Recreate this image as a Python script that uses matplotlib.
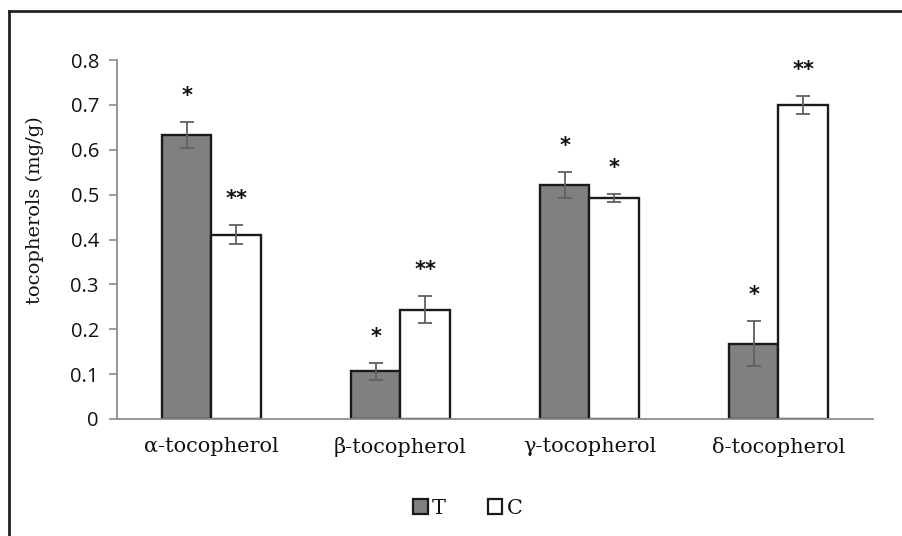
import matplotlib
matplotlib.use("Agg")
import matplotlib.pyplot as plt
from matplotlib.lines import Line2D
from matplotlib.patches import Patch
import numpy as np

categories = ["α-tocopherol", "β-tocopherol", "γ-tocopherol", "δ-tocopherol"]
T_values = [0.632, 0.106, 0.521, 0.168]
T_errors = [0.029, 0.019, 0.029, 0.050]
C_values = [0.411, 0.243, 0.492, 0.700]
C_errors = [0.021, 0.030, 0.009, 0.020]
T_marks = ["*", "*", "*", "*"]
C_marks = ["**", "**", "*", "**"]
yticks = [0, 0.1, 0.2, 0.3, 0.4, 0.5, 0.6, 0.7, 0.8]
ytick_labels = ["0", "0.1", "0.2", "0.3", "0.4", "0.5", "0.6", "0.7", "0.8"]

W, H = 903, 536
txt = "#111111"
fig = plt.figure(figsize=(W / 100, H / 100), dpi=100)
ax = fig.add_axes([117 / W, (H - 419) / H, (873 - 117) / W, (419 - 60) / H])

x = np.arange(len(categories))
bw = 0.26
edge = "#1a1a1a"
ax.bar(x - bw / 2, T_values, bw, color="#808080", edgecolor=edge, linewidth=1.7, zorder=2)
ax.bar(x + bw / 2, C_values, bw, color="white", edgecolor=edge, linewidth=1.7, zorder=2)
ax.errorbar(x - bw / 2, T_values, yerr=T_errors, fmt="none", ecolor="#606060",
            elinewidth=1.3, capsize=5, capthick=1.3, zorder=3)
ax.errorbar(x + bw / 2, C_values, yerr=C_errors, fmt="none", ecolor="#606060",
            elinewidth=1.3, capsize=5, capthick=1.3, zorder=3)

off = 0.058
for i in range(len(categories)):
    ax.text(x[i] - bw / 2, T_values[i] + T_errors[i] + off, T_marks[i], ha="center",
            va="center", fontsize=15, fontweight="bold", color=txt, family="DejaVu Sans")
    ax.text(x[i] + bw / 2, C_values[i] + C_errors[i] + off, C_marks[i], ha="center",
            va="center", fontsize=15, fontweight="bold", color=txt, family="DejaVu Sans")

ax.set_xlim(-0.5, len(categories) - 0.5)
ax.set_ylim(0, 0.8)
ax.set_yticks(yticks)
ax.set_yticklabels(ytick_labels, family="Open Sans", fontsize=14.5, color=txt)
ax.set_xticks(x)
ax.set_xticklabels(categories, family="DejaVu Serif", fontsize=15, color=txt)
ax.tick_params(axis="x", length=0, pad=13)
ax.tick_params(axis="y", length=6, width=1.2, color="#8c8c8c", pad=7)
for s in ["top", "right"]:
    ax.spines[s].set_visible(False)
for s in ["left", "bottom"]:
    ax.spines[s].set_color("#8c8c8c")
    ax.spines[s].set_linewidth(1.3)
ax.set_ylabel("tocopherols (mg/g)", family="DejaVu Serif", fontsize=14, color=txt)
ax.yaxis.set_label_coords(-0.096, 0.582)

handles = [Patch(facecolor="#808080", edgecolor=edge, linewidth=1.6),
           Patch(facecolor="white", edgecolor=edge, linewidth=1.6)]
fig.legend(handles, ["T", "C"], loc="center", bbox_to_anchor=(468 / W, 1 - 508 / H),
           ncol=2, frameon=False, handlelength=0.7, handleheight=0.7,
           handletextpad=0.2, columnspacing=2.0,
           prop={"family": "DejaVu Serif", "size": 15})
for t in fig.legends[0].get_texts():
    t.set_color(txt)

fig.add_artist(Line2D([9.5 / W, 9.5 / W], [0, 1 - 11 / H], color="#222222", lw=2, transform=fig.transFigure))
fig.add_artist(Line2D([9.5 / W, 1], [1 - 11 / H, 1 - 11 / H], color="#222222", lw=2, transform=fig.transFigure))

fig.savefig("out.png", dpi=100)
